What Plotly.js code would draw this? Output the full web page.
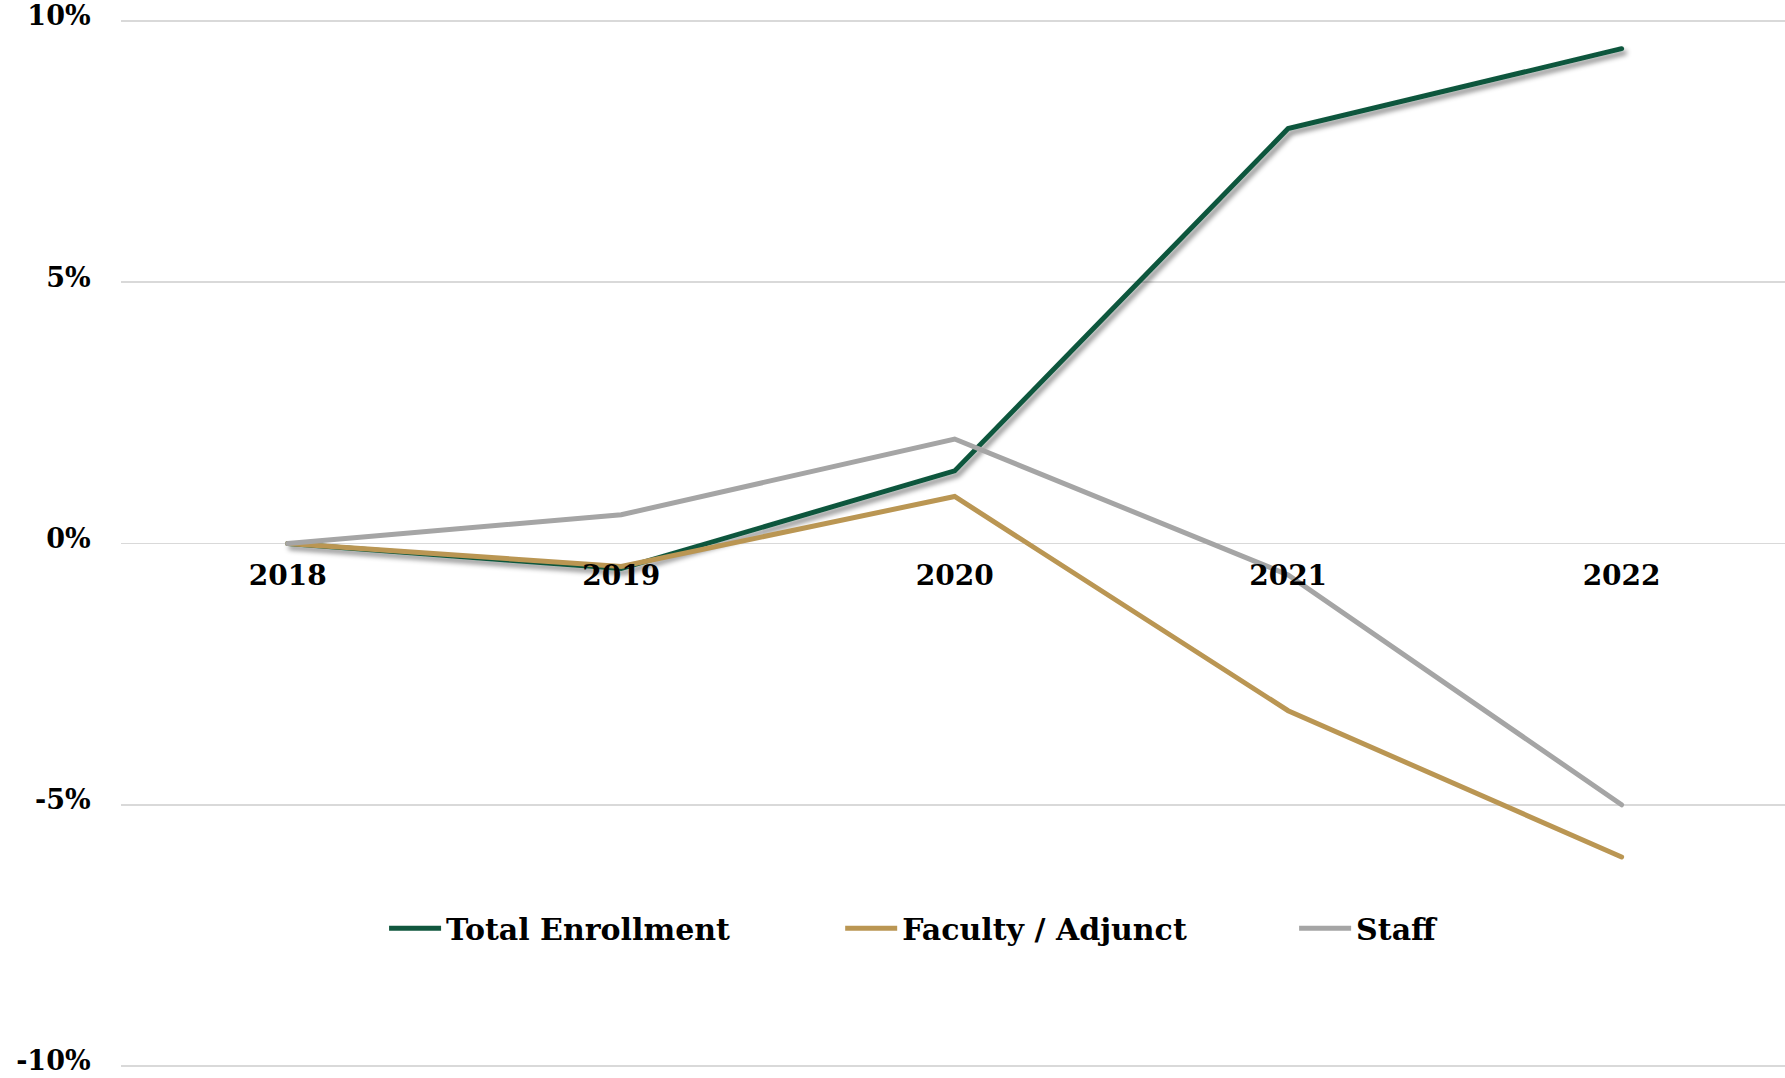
<!DOCTYPE html>
<html>
<head>
<meta charset="utf-8">
<script src="https://cdn.plot.ly/plotly-3.0.1.min.js"></script>
<style>
html,body{margin:0;padding:0;background:#fff;}
#chart{width:1785px;height:1078px;}
.scatterlayer path.js-line{stroke-linecap:round;}
</style>
</head>
<body>
<div id="chart"></div>
<script>
const years = ['2018', '2019', '2020', '2021', '2022'];
const totalEnrollment = [0, -0.48, 1.39, 7.94, 9.47];
const facultyAdjunct = [0, -0.44, 0.90, -3.20, -6.00];
const staff = [0, 0.55, 2.00, -0.60, -5.00];
const seriesNames = ['Total Enrollment', 'Faculty / Adjunct', 'Staff'];
const yTickValues = [10, 5, 0, -5, -10];
const yTickLabels = ['10%', '5%', '0%', '-5%', '-10%'];

const FAMILY = 'DejaVu Serif, Liberation Serif, serif';
const TICKFONT = {family: FAMILY, size: 28, color: '#000', weight: 700};
const YTICKFONT = {family: FAMILY, size: 27, color: '#000', weight: 700};
const LEGFONT = {family: FAMILY, size: 30, color: '#000', weight: 700};

const traces = [
  {x: years, y: totalEnrollment, name: seriesNames[0], type: 'scatter', mode: 'lines',
   line: {color: '#11573E', width: 5}, legend: 'legend'},
  {x: years, y: facultyAdjunct, name: seriesNames[1], type: 'scatter', mode: 'lines',
   line: {color: '#BA9653', width: 5}, legend: 'legend2'},
  {x: years, y: staff, name: seriesNames[2], type: 'scatter', mode: 'lines',
   line: {color: '#A5A5A5', width: 5}, legend: 'legend3'}
];

function leg(x) {
  return {orientation: 'h', x: x, xanchor: 'left', y: 0.134, yanchor: 'middle',
          itemwidth: 52, bgcolor: 'rgba(0,0,0,0)', borderwidth: 0, font: LEGFONT};
}

const layout = {
  width: 1785, height: 1078,
  margin: {l: 121, r: 0, t: 18, b: 9},
  paper_bgcolor: '#fff', plot_bgcolor: '#fff',
  font: TICKFONT,
  showlegend: true,
  hovermode: false,
  xaxis: {
    type: 'category', range: [-0.5, 4.49],
    anchor: 'free', position: 0.5,
    showgrid: false, zeroline: false, showline: false,
    ticks: 'outside', ticklen: 7, tickcolor: 'rgba(0,0,0,0)',
    tickfont: TICKFONT, fixedrange: true, ticklabeloverflow: 'allow'
  },
  yaxis: {
    range: [-10.057, 10.057],
    tickvals: yTickValues, ticktext: yTickLabels,
    showgrid: true, gridcolor: '#D9D9D9', gridwidth: 1.5,
    zeroline: false, showline: false,
    ticks: 'outside', ticklen: 24, tickcolor: 'rgba(0,0,0,0)',
    ticklabelshift: -5,
    tickfont: YTICKFONT, fixedrange: true, ticklabeloverflow: 'allow'
  },
  legend: leg(0.1581),
  legend2: leg(0.4322),
  legend3: leg(0.7050)
};

Plotly.newPlot('chart', traces, layout, {displayModeBar: false, staticPlot: true}).then(function () {
  const svgNS = 'http://www.w3.org/2000/svg';
  const svg = document.querySelector('#chart .main-svg');
  let defs = svg.querySelector('defs');
  if (!defs) { defs = document.createElementNS(svgNS, 'defs'); svg.insertBefore(defs, svg.firstChild); }
  const filter = document.createElementNS(svgNS, 'filter');
  filter.setAttribute('id', 'lineShadow');
  filter.setAttribute('x', '-10%'); filter.setAttribute('y', '-10%');
  filter.setAttribute('width', '120%'); filter.setAttribute('height', '120%');
  const ds = document.createElementNS(svgNS, 'feDropShadow');
  ds.setAttribute('dx', '3'); ds.setAttribute('dy', '4');
  ds.setAttribute('stdDeviation', '2.5');
  ds.setAttribute('flood-color', '#000'); ds.setAttribute('flood-opacity', '0.45');
  filter.appendChild(ds);
  defs.appendChild(filter);
  const lines = document.querySelectorAll('#chart .scatterlayer .trace path.js-line');
  if (lines.length) lines[0].setAttribute('filter', 'url(#lineShadow)');
});
</script>
</body>
</html>
